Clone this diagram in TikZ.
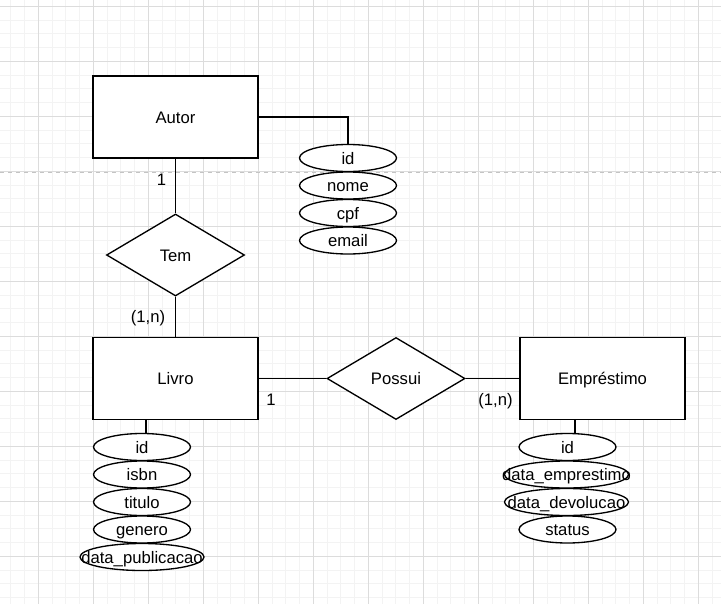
\documentclass[tikz,border=0pt]{standalone}
\usepackage{fontspec}
\setmainfont{Liberation Sans}
\usetikzlibrary{shapes.geometric}
\definecolor{gminor}{HTML}{F3F3F3}
\definecolor{gmajor}{HTML}{DCDCDC}
\definecolor{gdash}{HTML}{C4C4C4}
\begin{document}
\begin{tikzpicture}[x=0.75pt,y=-0.75pt,
  every node/.style={font=\fontsize{12.5}{14}\selectfont, text=black},
  shaped/.style={text height=9pt, text depth=0pt},
  entity/.style={shaped, draw=black, line width=1pt, fill=white, rectangle, minimum width=123.75pt, minimum height=61.5pt, inner sep=0pt},
  relation/.style={shaped, draw=black, line width=1pt, fill=white, diamond, minimum width=103.5pt, minimum height=61.5pt, inner sep=0pt},
  attr/.style={shaped, draw=black, line width=1pt, fill=white, ellipse, minimum width=72.75pt, minimum height=20.25pt, inner sep=0pt},
  wattr/.style={attr, minimum width=93pt},
  conn/.style={draw=black, line width=1pt},
  card/.style={inner sep=0pt, text height=9pt, text depth=0pt}]
\useasboundingbox (0,0) rectangle (721,604);
\fill[white] (0,0) rectangle (721,604);
% grid
\begin{scope}
\clip (0,0) rectangle (721,604);
\foreach \i in {-3,...,52} {
  \draw[gminor, line width=0.6pt] (38.3+13.75*\i,0) -- (38.3+13.75*\i,604);
  \draw[gminor, line width=0.6pt] (0,6.3+13.75*\i) -- (721,6.3+13.75*\i);
}
\foreach \i in {-1,...,13} {
  \draw[gmajor, line width=0.6pt] (38.3+55*\i,0) -- (38.3+55*\i,604);
  \draw[gmajor, line width=0.6pt] (0,6.3+55*\i) -- (721,6.3+55*\i);
}
\draw[gdash, line width=0.9pt, dash pattern=on 3pt off 3pt] (0,172.5) -- (721,172.5);
\end{scope}
% entities and relations
\node[entity] (autor) at (175.5,117) {Autor};
\node[relation] (tem) at (175.5,255) {Tem};
\node[entity] (livro) at (175.5,378.5) {Livro};
\node[relation] (possui) at (396,378.5) {Possui};
\node[entity] (emp) at (602.5,378.5) {Empréstimo};
% attributes of Autor
\node[attr] (aid) at (348,158) {\makebox[0pt]{id}};
\node[attr] (anome) at (348,185.5) {\makebox[0pt]{nome}};
\node[attr] (acpf) at (348,213) {\makebox[0pt]{cpf}};
\node[attr] (aemail) at (348,240.5) {\makebox[0pt]{email}};
% attributes of Livro
\node[attr] (lid) at (142,447) {\makebox[0pt]{id}};
\node[attr] (lisbn) at (142,474.5) {\makebox[0pt]{isbn}};
\node[attr] (ltitulo) at (142,502) {\makebox[0pt]{titulo}};
\node[attr] (lgenero) at (142,529.5) {\makebox[0pt]{genero}};
\node[wattr] (ldata) at (142,557) {\makebox[0pt]{data\_publicacao}};
% attributes of Emprestimo
\node[attr] (eid) at (567.5,447) {\makebox[0pt]{id}};
\node[wattr] (edemp) at (566.5,474.5) {\makebox[0pt]{data\_emprestimo}};
\node[wattr] (eddev) at (566.5,502) {\makebox[0pt]{data\_devolucao}};
\node[attr] (estatus) at (567.5,529.5) {\makebox[0pt]{status}};
% connectors
\draw[conn] (autor.east) -| (aid.north);
\draw[conn] (autor.south) -- (tem.north);
\draw[conn] (tem.south) -- (livro.north);
\draw[conn] (livro.east) -- (possui.west);
\draw[conn] (possui.east) -- (emp.west);
\draw[conn] ([xshift=3pt]lid.north |- livro.south) -- ([xshift=3pt]lid.north);
\draw[conn] ([xshift=5.6pt]eid.north |- emp.south) -- ([xshift=5.6pt]eid.north);
% cardinalities
\node[card] (c1) at (161.5,179) {1};
\node[card] (c2) at (148,316) {(1,n)};
\node[card] (c3) at (271,399.7) {1};
\node[card] (c4) at (495.5,399.7) {(1,n)};
\end{tikzpicture}
\end{document}
